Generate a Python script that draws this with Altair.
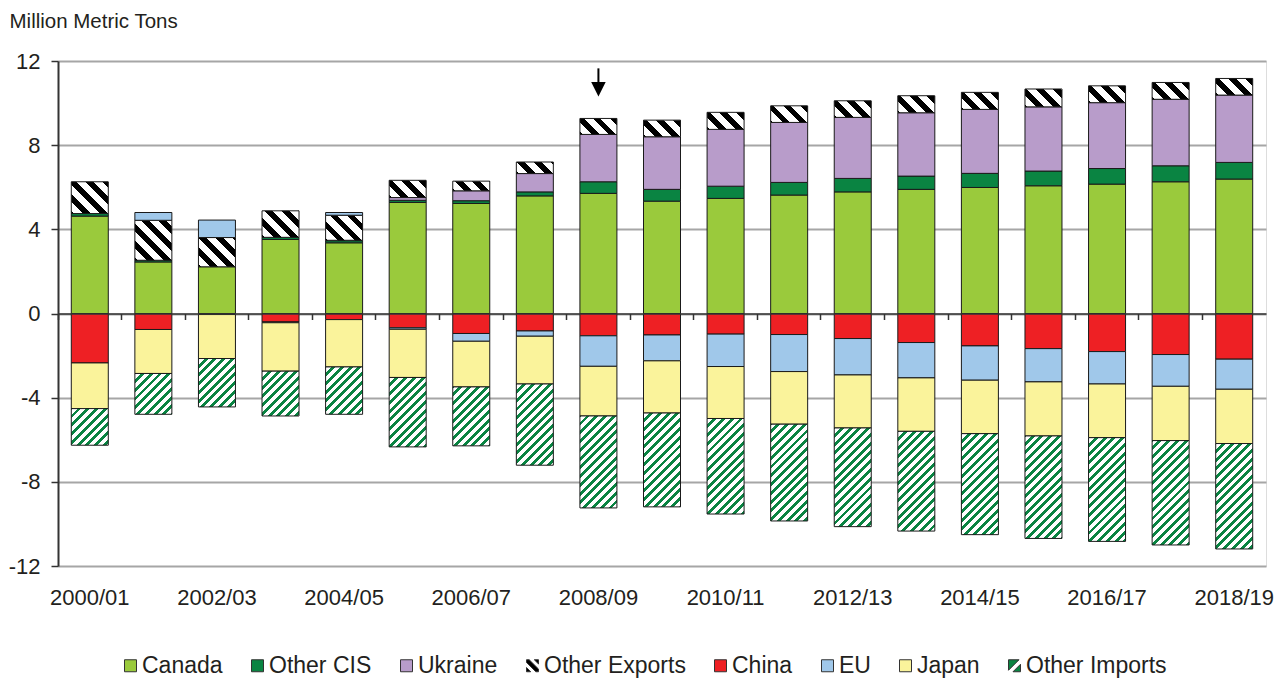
import math
import altair as alt
import pandas as pd

# ---------------- data (million metric tons) ----------------
years = ["2000/01", "2001/02", "2002/03", "2003/04", "2004/05", "2005/06", "2006/07",
         "2007/08", "2008/09", "2009/10", "2010/11", "2011/12", "2012/13", "2013/14",
         "2014/15", "2015/16", "2016/17", "2017/18", "2018/19"]
label_years = years[::2]

series = ["Canada", "Other CIS", "Ukraine", "Other Exports", "China", "EU", "Japan", "Other Imports"]
colors = ["#9ACA3C", "#0A8442", "#B89CCA", "#000000", "#EE2024", "#A0C8EA", "#FAF39B", "#0A8442"]

canada = [4.63, 2.45, 2.22, 3.52, 3.36, 5.28, 5.23, 5.59, 5.71, 5.34, 5.47, 5.63, 5.78, 5.90,
          5.99, 6.07, 6.15, 6.26, 6.39]
other_cis = [0.12, 0.08, 0.0, 0.10, 0.10, 0.10, 0.13, 0.19, 0.55, 0.56, 0.58, 0.60, 0.64, 0.63,
             0.67, 0.70, 0.74, 0.76, 0.79]
ukraine = [0.0, 0.0, 0.0, 0.0, 0.02, 0.13, 0.47, 0.87, 2.25, 2.50, 2.70, 2.85, 2.90, 3.01,
           3.04, 3.05, 3.13, 3.16, 3.20]
other_exports = [1.51, 1.90, 1.39, 1.26, 1.19, 0.82, 0.46, 0.55, 0.76, 0.79, 0.81, 0.79, 0.79,
                 0.81, 0.81, 0.85, 0.80, 0.80, 0.79]
china = [-2.35, -0.76, -0.05, -0.40, -0.29, -0.68, -0.95, -0.83, -1.06, -1.02, -0.98, -1.00,
         -1.19, -1.38, -1.54, -1.67, -1.81, -1.95, -2.17]
eu = [0.0, 0.37, 0.83, -0.04, 0.13, -0.07, -0.37, -0.25, -1.45, -1.23, -1.54, -1.76, -1.73,
      -1.68, -1.63, -1.58, -1.54, -1.51, -1.43]
japan = [-2.17, -2.09, -2.09, -2.30, -2.25, -2.29, -2.17, -2.27, -2.36, -2.48, -2.47, -2.50,
         -2.52, -2.54, -2.54, -2.57, -2.55, -2.58, -2.58]
other_imports = [-1.74, -1.94, -2.30, -2.13, -2.25, -3.30, -2.80, -3.86, -4.37, -4.46, -4.54,
                 -4.60, -4.69, -4.74, -4.80, -4.87, -4.93, -4.96, -5.01]

# arrow annotation above 2008/09
arrow_year = ["2008/09"]
arrow_top = [11.65]
arrow_base = [10.95]
arrow_head = [10.66]

# ---------------- layout / style ----------------
W, H = 1208, 505
BAR = 37
PX = H / 24.0
FONT = "Liberation Sans"
TXT = "#231F20"

values = [canada, other_cis, ukraine, other_exports, china, eu, japan, other_imports]
rows = []
for si, (s, vals) in enumerate(zip(series, values)):
    for yi, (yr, v) in enumerate(zip(years, vals)):
        if v != 0:
            rows.append({"year": yr, "series": s, "value": v, "idx": si, "pid": f"{si}_{yi}"})
df = pd.DataFrame(rows)


def stripes(w, h, period, frac, dark, light, back, phase=0.3):
    """Diagonal hatch as a linear gradient in bounding-box units (45 deg in pixels)."""
    D = (w + h) / math.sqrt(2)
    s = (w + h) / (w * w + h * h)
    if back:   # "\" stripes
        x1, y1, x2, y2 = 0, 1, s * w, 1 - s * h
    else:      # "/" stripes
        x1, y1, x2, y2 = 0, 0, s * w, s * h
    stops = [{"offset": 0, "color": light}]
    pos = -phase * period
    while pos < D:
        a = min(max(pos / D, 0), 1)
        b = min(max((pos + period * frac) / D, 0), 1)
        c = min(max((pos + period) / D, 0), 1)
        stops += [{"offset": round(a, 4), "color": light},
                  {"offset": round(a, 4), "color": dark},
                  {"offset": round(b, 4), "color": dark},
                  {"offset": round(b, 4), "color": light},
                  {"offset": round(c, 4), "color": light}]
        pos += period
    stops.append({"offset": 1, "color": light})
    return {"gradient": "linear", "x1": x1, "y1": y1, "x2": round(x2, 4), "y2": round(y2, 4),
            "stops": stops}


HATCH = {
    "Other Exports": dict(period=12.0, frac=0.45, dark="#000000", light="#FFFFFF", back=True),
    "Other Imports": dict(period=6.2, frac=0.45, dark="#0A8442", light="#FFFFFF", back=False),
}

conds = []
for r in rows:
    if r["series"] in HATCH:
        g = stripes(BAR, abs(r["value"]) * PX, **HATCH[r["series"]])
        conds.append({"test": f"datum.pid === '{r['pid']}'", "value": g})


# ---- hatched legend symbols as custom symbol paths in [-1, 1] space ----
def clip(poly, a, b, c):
    out = []
    n = len(poly)
    for i in range(n):
        p, q = poly[i], poly[(i + 1) % n]
        fp = a * p[0] + b * p[1] - c
        fq = a * q[0] + b * q[1] - c
        if fp <= 0:
            out.append(p)
        if (fp < 0 < fq) or (fq < 0 < fp):
            t = fp / (fp - fq)
            out.append((p[0] + t * (q[0] - p[0]), p[1] + t * (q[1] - p[1])))
    return out


def band_path(bands, back):
    sq = [(-1, -1), (1, -1), (1, 1), (-1, 1)]
    sy = -1 if back else 1
    parts = []
    for lo, hi in bands:
        poly = clip(sq, 1, sy, hi)
        poly = clip(poly, -1, -sy, -lo)
        if len(poly) >= 3:
            parts.append("M" + "L".join(f"{x:.3f},{y:.3f}" for x, y in poly) + "Z")
    return "".join(parts)


oe_shape = band_path([(-2.0, -1.3), (-0.45, 0.45), (1.3, 2.0)], back=True)
oi_shape = band_path([(-2.0, -0.25), (0.75, 2.0)], back=False)
shapes = ["square", "square", "square", oe_shape, "square", "square", "square", oi_shape]

legend = alt.Legend(
    orient="none", legendX=61, legendY=593, direction="horizontal", columns=8, title=None,
    symbolSize=144, symbolStrokeColor="#333333", symbolStrokeWidth=1,
    labelFont=FONT, labelFontSize=23, labelColor=TXT, labelOffset=0, columnPadding=23,
    padding=0, labelLimit=400,
)

xscale = alt.Scale(domain=years, paddingInner=0, paddingOuter=0)
fill_scale = alt.Scale(domain=series, range=colors)

bars = alt.Chart(df).mark_bar(size=BAR, stroke="#1A1A1A", strokeWidth=1).encode(
    x=alt.X("year:N", sort=years, scale=xscale, title=None,
            axis=alt.Axis(orient="bottom", values=label_years, labelAngle=0, ticks=False,
                          tickSize=0, domain=False, grid=False, labelFont=FONT,
                          labelFontSize=22, labelColor=TXT, labelPadding=21)),
    y=alt.Y("value:Q", stack="zero",
            scale=alt.Scale(domain=[-12, 12], nice=False, zero=False),
            axis=alt.Axis(values=[-12, -8, -4, 0, 4, 8, 12], labelExpr="datum.value + ''",
                          title="Million Metric Tons", titleAngle=0, titleX=-49, titleY=-34,
                          titleAlign="left", titleBaseline="alphabetic", titleFont=FONT,
                          titleFontSize=20.5, titleFontWeight="normal", titleColor=TXT,
                          labelFont=FONT, labelFontSize=22, labelColor=TXT, labelPadding=11,
                          tickSize=7, tickColor="#333333", tickWidth=1.5,
                          domainColor="#333333", domainWidth=2,
                          gridColor="#A6A6A6", gridWidth=2)),
    fill=alt.Fill("series:N", scale=fill_scale, legend=legend, condition=conds),
    order=alt.Order("idx:Q", sort="ascending"),
)

# legend-only layer (no rows drawn) giving the legend its hatched symbols
legend_layer = alt.Chart(df).transform_filter("false").mark_point(filled=True, opacity=1).encode(
    fill=alt.Fill("series:N", scale=fill_scale, legend=legend),
    shape=alt.Shape("series:N", scale=alt.Scale(domain=series, range=shapes), legend=legend),
)

adf = pd.DataFrame({"year": arrow_year, "top": arrow_top, "base": arrow_base, "head": arrow_head})

shaft = alt.Chart(adf).mark_rule(color="black", strokeWidth=2).encode(
    x=alt.X("year:N", sort=years, scale=xscale, title=None,
            axis=alt.Axis(orient="bottom", offset=-H / 2, labels=False, ticks=True, tickSize=6,
                          tickColor="#333333", tickWidth=1.5, bandPosition=0, domain=True,
                          domainColor="#333333", domainWidth=1.5, grid=False, zindex=1)),
    y=alt.Y("top:Q", axis=None),
    y2="base:Q",
)

head = alt.Chart(adf).mark_point(shape="M-1,-1L1,-1L0,1Z", size=210, filled=True,
                                 color="black", opacity=1).encode(
    x=alt.X("year:N", sort=years, scale=xscale, axis=None),
    y=alt.Y("head:Q", axis=None),
)

chart = (
    alt.layer(bars, shaft, head, legend_layer)
    .resolve_axis(x="independent", y="independent")
    .properties(width=W, height=H,
                padding={"left": 50, "top": 53, "right": 13, "bottom": 113},
                autosize=alt.AutoSizeParams(type="none"))
    .configure_view(stroke="#666666", strokeWidth=2)
    .configure(background="white")
)

chart.save("out.html", embed_options={"renderer": "svg", "actions": False})
